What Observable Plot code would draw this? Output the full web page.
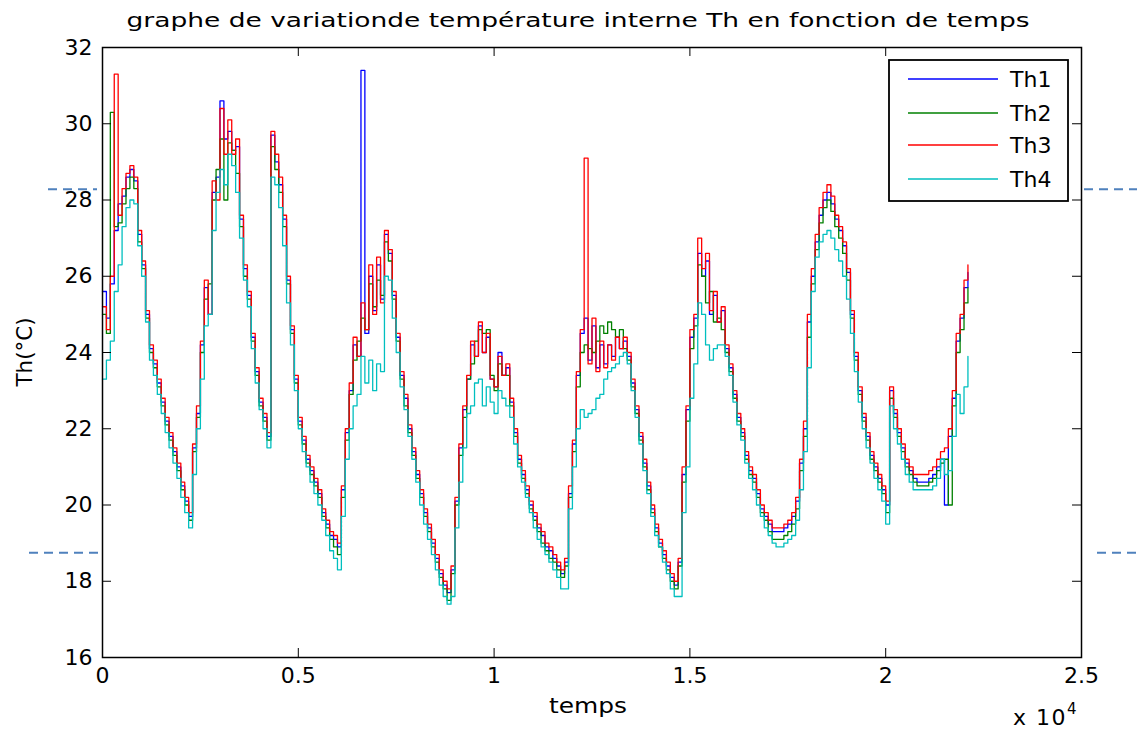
<!DOCTYPE html>
<html>
<head>
<meta charset="utf-8">
<script src="https://cdn.jsdelivr.net/npm/d3@7"></script>
<script src="https://cdn.jsdelivr.net/npm/@observablehq/plot@0.6"></script>
<style>
  html, body { margin: 0; padding: 0; background: white; overflow: hidden; }
  svg { display: block; }
</style>
</head>
<body>
<div id="chart"></div>
<script>
// ---- data ----
const titleText = "graphe de variationde température interne Th en fonction de temps";
const xLabel = "temps";
const yLabel = "Th(°C)";
const seriesNames = ["Th1", "Th2", "Th3", "Th4"];
const seriesColors = ["#0000ff", "#008000", "#ff0000", "#00bfbf"];
const xTicks = [0, 5000, 10000, 15000, 20000, 25000];
const xTickLabels = ["0", "0.5", "1", "1.5", "2", "2.5"];
const yTicks = [16, 18, 20, 22, 24, 26, 28, 30, 32];
const guideLevels = [28.28, 18.75];

// sampling instants (one reading every 100 time units)
const temps = d3.range(0, 22200, 100);

const th1 = [
25.6,24.9,25.8,27.2,27.9,28.1,28.6,28.8,28.5,27.1,26.3,25.0,24.1,23.7,23.2,22.7,22.2,21.8,21.4,21.0,
20.5,20.1,19.7,21.5,22.4,24.2,25.7,25.0,28.2,28.6,30.6,29.6,29.8,29.3,29.4,27.5,26.2,25.5,24.4,23.5,
22.7,22.3,21.8,29.7,29.0,28.4,27.5,25.9,24.6,23.3,22.2,21.7,21.2,20.9,20.6,20.3,19.8,19.5,19.2,19.1,
18.9,20.4,21.9,23.0,24.2,23.9,31.4,24.5,26.0,25.1,26.3,25.4,27.1,26.6,25.5,24.4,23.4,22.8,22.0,21.4,
20.8,20.3,19.8,19.4,19.0,18.6,18.2,17.9,17.7,18.3,20.1,21.5,22.5,23.3,24.2,23.9,24.7,24.0,24.4,23.3,
23.1,24.0,23.4,23.6,22.7,21.9,21.2,20.8,20.4,20.0,19.7,19.4,19.2,18.9,18.8,18.6,18.4,18.2,18.5,20.3,
21.6,23.4,24.5,24.9,23.8,24.7,23.6,24.2,23.7,24.2,23.9,24.4,24.1,24.3,23.9,23.2,22.5,21.8,21.1,20.5,
19.9,19.4,19.0,18.7,18.4,18.1,17.9,18.5,20.8,22.5,24.4,24.9,26.6,26.0,26.4,25.0,25.5,24.8,25.1,24.1,
23.6,22.9,22.3,21.9,21.3,20.9,20.7,20.3,19.9,19.7,19.5,19.3,19.3,19.3,19.4,19.5,19.7,20.1,21.1,22.0,
24.8,26.0,26.9,27.6,28.0,28.2,27.9,27.5,27.2,26.8,26.1,25.0,23.9,23.0,22.3,21.8,21.3,21.0,20.7,20.4,
20.0,23.0,22.4,21.9,21.5,21.1,20.9,20.7,20.6,20.6,20.6,20.7,20.8,21.0,21.2,20.0,21.8,22.8,24.3,24.9,
25.7,26.1];

const th2 = [
25.0,24.5,30.3,27.3,27.4,27.9,28.3,28.6,28.3,26.9,26.2,24.9,24.0,23.6,23.1,22.6,22.1,21.7,21.3,20.9,
20.4,20.0,19.6,21.4,22.3,24.0,25.4,25.8,28.0,28.8,29.6,28.0,29.5,29.3,28.7,27.3,26.0,25.4,24.3,23.4,
22.6,22.2,21.7,29.4,28.8,28.2,27.3,25.8,24.5,23.2,22.1,21.6,21.1,20.8,20.5,20.2,19.7,19.4,19.1,18.9,
18.7,20.2,21.7,22.9,23.8,24.3,24.9,24.6,25.8,25.2,25.9,25.5,26.9,26.4,25.4,24.3,23.3,22.6,21.9,21.3,
20.7,20.2,19.7,19.3,18.9,18.5,18.1,17.8,17.5,18.2,20.0,21.3,22.3,23.3,23.7,24.3,24.6,24.5,24.6,23.4,
23.0,23.7,23.4,23.4,22.6,21.8,21.1,20.7,20.3,19.9,19.6,19.3,19.0,18.8,18.6,18.5,18.3,18.1,18.4,20.2,
21.4,23.1,24.0,24.2,24.1,24.0,24.3,24.7,24.5,24.8,24.6,24.4,24.6,24.1,23.8,23.1,22.4,21.7,21.0,20.4,
19.8,19.3,18.9,18.6,18.3,18.0,17.8,18.4,20.6,22.2,24.1,24.7,26.3,26.0,25.3,25.6,24.8,24.9,24.6,24.0,
23.5,22.8,22.2,21.8,21.2,20.8,20.6,20.2,19.8,19.6,19.3,19.1,19.1,19.1,19.2,19.3,19.5,19.9,20.9,21.8,
24.4,25.8,26.7,27.4,27.8,28.0,27.7,27.3,27.0,26.6,25.9,24.9,23.8,22.9,22.2,21.7,21.2,20.9,20.6,20.3,
19.8,22.8,22.3,21.8,21.4,21.0,20.8,20.6,20.5,20.5,20.5,20.6,20.7,20.9,21.1,21.2,20.0,22.6,24.0,24.6,
25.3,25.7];

const th3 = [
25.2,24.6,26.0,31.3,27.6,28.3,28.7,28.9,28.6,27.2,26.4,25.1,24.2,23.8,23.3,22.8,22.3,21.9,21.5,21.1,
20.6,20.2,19.8,21.6,22.6,24.3,25.9,25.0,28.5,28.0,30.4,29.2,30.1,29.2,29.6,27.6,26.3,25.6,24.5,23.6,
22.8,22.4,21.9,29.8,29.2,28.6,27.6,26.0,24.7,23.4,22.3,21.8,21.3,21.0,20.7,20.4,19.9,19.6,19.3,19.2,
19.0,20.5,22.0,23.2,24.4,23.9,25.3,24.6,26.3,25.0,26.5,25.3,27.2,26.7,25.6,24.5,23.5,22.9,22.1,21.5,
20.9,20.4,19.9,19.5,19.1,18.7,18.3,18.0,17.8,18.4,20.2,21.6,22.6,23.4,24.3,23.9,24.8,24.0,24.5,23.3,
23.1,23.9,23.4,23.7,22.8,22.0,21.3,20.9,20.5,20.1,19.8,19.5,19.3,19.0,18.9,18.7,18.5,18.3,18.6,20.5,
21.7,23.5,24.6,29.1,23.7,24.9,23.5,24.3,23.6,24.2,23.8,24.4,24.1,24.4,24.0,23.3,22.6,21.9,21.2,20.6,
20.0,19.5,19.1,18.8,18.5,18.2,18.0,18.6,21.0,22.6,24.6,25.0,27.0,26.2,26.6,25.1,25.6,24.8,25.2,24.2,
23.7,23.0,22.4,22.0,21.4,21.0,20.8,20.4,20.0,19.8,19.6,19.4,19.4,19.4,19.5,19.6,19.8,20.2,21.2,22.2,
25.0,26.2,27.1,27.8,28.2,28.4,28.1,27.6,27.3,26.9,26.2,25.1,24.0,23.1,22.4,21.9,21.4,21.1,20.8,20.5,
20.1,23.1,22.5,22.0,21.6,21.2,21.0,20.8,20.8,20.8,20.8,20.9,21.0,21.2,21.4,21.5,22.0,23.0,24.5,25.0,
25.9,26.3];

const th4 = [
23.3,23.8,24.3,25.6,26.3,27.3,27.8,28.0,27.9,26.8,26.0,24.8,23.8,23.4,22.9,22.4,21.9,21.5,21.1,20.7,
20.2,19.8,19.4,20.8,22.0,23.3,24.7,25.0,27.2,28.2,28.8,28.4,29.2,28.9,28.2,27.0,25.9,25.2,24.1,23.2,
22.5,22.0,21.5,28.6,28.4,27.8,26.8,25.3,24.2,23.0,22.0,21.4,21.0,20.6,20.3,20.0,19.6,19.2,18.8,18.6,
18.3,19.7,21.2,22.0,22.6,22.9,23.9,23.2,23.8,23.0,23.7,23.5,26.0,25.9,24.9,24.0,23.1,22.5,21.8,21.2,
20.6,20.0,19.5,19.1,18.7,18.3,17.9,17.6,17.4,17.6,19.4,20.6,21.5,22.4,22.6,23.2,23.3,22.6,23.1,22.7,
22.4,23.0,22.8,22.6,22.3,21.6,21.0,20.6,20.2,19.8,19.4,19.1,18.9,18.7,18.5,18.3,18.1,17.8,17.8,19.9,
21.0,22.0,22.5,22.3,22.4,22.5,22.8,22.9,23.3,23.5,23.6,23.7,23.9,24.0,23.7,23.0,22.3,21.6,20.9,20.3,
19.7,19.2,18.9,18.5,18.2,17.8,17.6,17.6,19.8,21.0,22.8,23.7,25.3,25.0,24.2,23.8,24.1,24.2,24.2,23.9,
23.4,22.7,22.1,21.7,21.1,20.7,20.4,20.0,19.7,19.4,19.2,19.0,18.9,18.9,19.0,19.1,19.2,19.6,20.4,21.4,
23.6,25.6,26.5,26.9,27.1,27.2,27.0,26.7,26.4,26.0,25.4,24.5,23.5,22.7,22.0,21.5,21.1,20.7,20.4,20.1,
19.5,22.6,22.0,21.6,21.2,20.8,20.6,20.4,20.4,20.4,20.4,20.4,20.5,20.7,21.2,20.8,20.9,21.8,22.9,22.4,
23.1,23.9];

// ---- table for the library ----
const seriesValues = [th1, th2, th3, th4];
const rows = [];
seriesNames.forEach((name, k) => {
  seriesValues[k].forEach((v, i) => rows.push({t: temps[i], v, s: name}));
});

const FONT = "'DejaVu Sans', 'Liberation Sans', sans-serif";

const chart = Plot.plot({
  width: 1137,
  height: 729,
  marginLeft: 102,
  marginRight: 56,
  marginTop: 47,
  marginBottom: 72,
  style: {fontFamily: FONT, fontSize: "22px", background: "white", color: "black", overflow: "visible"},
  x: {domain: [0, 25000]},
  y: {domain: [16, 32]},
  color: {domain: seriesNames, range: seriesColors},
  marks: [
    Plot.line(rows, {x: "t", y: "v", z: "s", stroke: "s", curve: "step-after", strokeWidth: 1.3}),
    Plot.frame({stroke: "black", strokeWidth: 1.5}),
    // inward ticks on the four sides
    Plot.tickX(xTicks, {x: d => d, insetTop: 601, stroke: "black", strokeWidth: 1}),
    Plot.tickX(xTicks, {x: d => d, insetBottom: 601, stroke: "black", strokeWidth: 1}),
    Plot.tickY(yTicks, {y: d => d, insetRight: 970, stroke: "black", strokeWidth: 1}),
    Plot.tickY(yTicks, {y: d => d, insetLeft: 970, stroke: "black", strokeWidth: 1}),
    Plot.axisX(xTicks, {tickSize: 0, tickPadding: 10, tickFormat: d => xTickLabels[xTicks.indexOf(d)], label: null, fontSize: 22}),
    Plot.axisY(yTicks, {tickSize: 0, tickPadding: 10, label: null, fontSize: 22}),
    // dashed guide marks outside the frame
    Plot.ruleY([guideLevels[0]], {insetLeft: -54, insetRight: 984, stroke: "#4f81bd", strokeWidth: 2, strokeDasharray: "9,6"}),
    Plot.ruleY([guideLevels[0]], {insetLeft: 982, insetRight: -56, stroke: "#4f81bd", strokeWidth: 2, strokeDasharray: "9,6"}),
    Plot.ruleY([guideLevels[1]], {insetLeft: -73, insetRight: 980, stroke: "#4f81bd", strokeWidth: 2, strokeDasharray: "9,6"}),
    Plot.ruleY([guideLevels[1]], {insetLeft: 995, insetRight: -56, stroke: "#4f81bd", strokeWidth: 2, strokeDasharray: "9,6"})
  ]
});

document.getElementById("chart").appendChild(chart);

const svg = d3.select(chart);

// title
svg.append("text")
  .attr("x", 578).attr("y", 27)
  .attr("text-anchor", "middle")
  .attr("font-family", FONT).attr("font-size", 20)
  .attr("textLength", 903).attr("lengthAdjust", "spacingAndGlyphs")
  .attr("fill", "black")
  .text(titleText);

// x label
svg.append("text")
  .attr("x", 588).attr("y", 713)
  .attr("text-anchor", "middle")
  .attr("font-family", FONT).attr("font-size", 22)
  .attr("textLength", 78).attr("lengthAdjust", "spacingAndGlyphs")
  .attr("fill", "black")
  .text(xLabel);

// y label
svg.append("text")
  .attr("transform", "translate(32,352) rotate(-90)")
  .attr("text-anchor", "middle")
  .attr("font-family", FONT).attr("font-size", 21)
  .attr("textLength", 69).attr("lengthAdjust", "spacingAndGlyphs")
  .attr("fill", "black")
  .text(yLabel);

// x 10^4 multiplier
const mult = svg.append("text")
  .attr("x", 1013).attr("y", 725)
  .attr("text-anchor", "start")
  .attr("font-family", FONT).attr("font-size", 22)
  .attr("letter-spacing", 1.5)
  .attr("fill", "black");
mult.append("tspan").text("x 10");
mult.append("tspan").attr("dy", -11).attr("font-size", 15).text("4");

// legend
const lg = svg.append("g").attr("text-anchor", "start");
lg.append("rect")
  .attr("x", 889).attr("y", 60).attr("width", 179).attr("height", 141)
  .attr("fill", "white").attr("stroke", "black").attr("stroke-width", 1.8);
const legendY = [79, 113, 145, 179];
seriesNames.forEach((name, k) => {
  lg.append("line")
    .attr("x1", 908).attr("x2", 998)
    .attr("y1", legendY[k]).attr("y2", legendY[k])
    .attr("stroke", seriesColors[k]).attr("stroke-width", 1.3);
  lg.append("text")
    .attr("x", 1010).attr("y", legendY[k])
    .attr("dy", "0.36em")
    .attr("text-anchor", "start")
    .attr("font-family", FONT).attr("font-size", 22)
    .attr("fill", "black")
    .text(name);
});
</script>
</body>
</html>
